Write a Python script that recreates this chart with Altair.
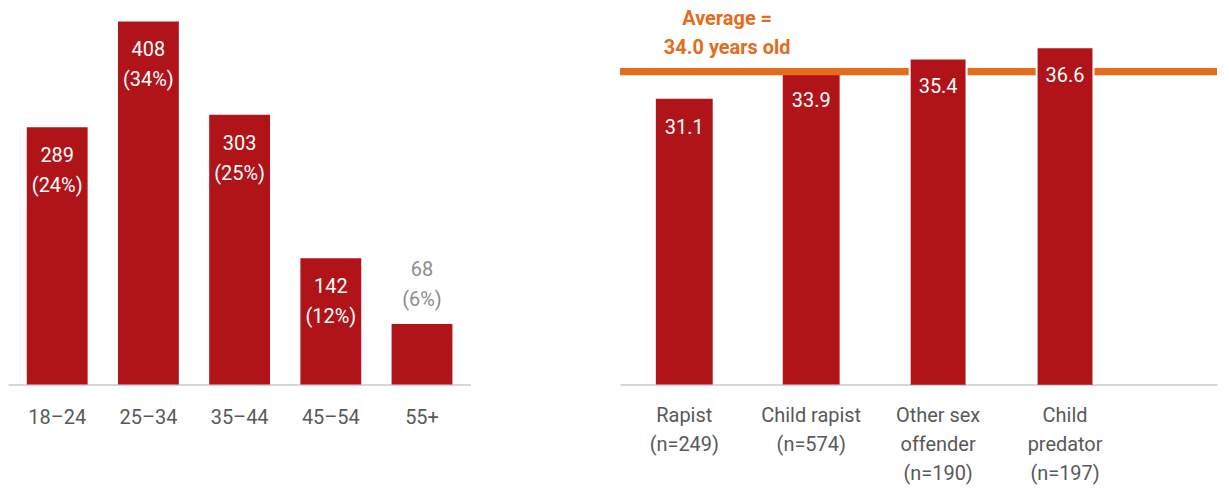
import altair as alt
import pandas as pd

# ---- data ----
age_groups = ["18–24", "25–34", "35–44", "45–54", "55+"]
age_counts = [289, 408, 303, 142, 68]
age_pcts = ["(24%)", "(34%)", "(25%)", "(12%)", "(6%)"]

offender_types = ["Rapist", "Child rapist", "Other sex offender", "Child predator"]
offender_label_lines = [["Rapist", "(n=249)"], ["Child rapist", "(n=574)"],
                        ["Other sex", "offender", "(n=190)"], ["Child", "predator", "(n=197)"]]
mean_ages = [31.1, 33.9, 35.4, 36.6]
avg_age = 34.0
avg_lines = ["Average =", "34.0 years old"]

# ---- styles ----
RED = "#B01419"
ORANGE = "#E46C1A"
GRAY = "#595959"
LIGHTGRAY = "#8C8C8C"
AXISLINE = "#D6D6D6"
FONT = "Roboto"
FS = 20
Y_MIN_R = 0.53

left_df = pd.DataFrame({"age": age_groups, "count": age_counts, "pct": age_pcts})
in_df = left_df[left_df["count"] > 100].reset_index(drop=True)
out_df = left_df[left_df["count"] <= 100].reset_index(drop=True)
right_df = pd.DataFrame({"type": offender_types, "mean": mean_ages})
above_df = right_df[right_df["mean"] > avg_age].reset_index(drop=True)
avg_df = pd.DataFrame({"type": [offender_types[0]], "mean": [avg_age],
                       "l1": [avg_lines[0]], "l2": [avg_lines[1]]})
line_rows = []
for t, lines in zip(offender_types, offender_label_lines):
    for k, s in enumerate(lines):
        line_rows.append({"type": t, "k": k, "txt": s, "mean": Y_MIN_R})
lines_df = pd.DataFrame(line_rows)

# ---- left panel ----
xL = alt.X("age:N",
           scale=alt.Scale(domain=age_groups, paddingInner=0.333, paddingOuter=0.202, align=0.51),
           axis=alt.Axis(title=None, labelAngle=0, ticks=False, domainColor=AXISLINE,
                         domainWidth=2, labelFont=FONT, labelFontSize=FS,
                         labelColor=GRAY, labelPadding=23, grid=False))
yL = alt.Y("count:Q", scale=alt.Scale(domain=[0, 422.2], nice=False), axis=None)

barsL = alt.Chart(left_df).mark_bar(color=RED).encode(x=xL, y=yL)
lab1 = alt.Chart(in_df).mark_text(font=FONT, fontSize=FS, color="white", baseline="middle", dy=29).encode(
    x=xL, y=yL, text="count:Q")
lab2 = alt.Chart(in_df).mark_text(font=FONT, fontSize=FS, color="white", baseline="middle", dy=59).encode(
    x=xL, y=yL, text="pct:N")
lab3 = alt.Chart(out_df).mark_text(font=FONT, fontSize=FS, color=LIGHTGRAY, baseline="middle", dy=-54).encode(
    x=xL, y=yL, text="count:Q")
lab4 = alt.Chart(out_df).mark_text(font=FONT, fontSize=FS, color=LIGHTGRAY, baseline="middle", dy=-24).encode(
    x=xL, y=yL, text="pct:N")

left = alt.layer(barsL, lab1, lab2, lab3, lab4).properties(width=464, height=377)

# ---- right panel ----
xR = alt.X("type:N",
           scale=alt.Scale(domain=offender_types, paddingInner=0.552, paddingOuter=0.628, align=0.225),
           axis=alt.Axis(title=None, labels=False, ticks=False, domainColor=AXISLINE,
                         domainWidth=2, grid=False))
yR = alt.Y("mean:Q", scale=alt.Scale(domain=[Y_MIN_R, 40.72], nice=False, zero=False),
           axis=None)

barsR = alt.Chart(right_df).mark_bar(color=RED, clip=True).encode(x=xR, y=yR)
rule = alt.Chart(avg_df).mark_rule(color=ORANGE, strokeWidth=7.5).encode(y=yR)
barsAbove = alt.Chart(above_df).mark_bar(color=RED, stroke="white", strokeWidth=2, clip=True).encode(x=xR, y=yR)
labR = alt.Chart(right_df).mark_text(font=FONT, fontSize=FS, color="white", baseline="middle", dy=29).encode(
    x=xR, y=yR, text=alt.Text("mean:Q", format=".1f"))
ann1 = alt.Chart(avg_df).mark_text(font=FONT, fontSize=FS, fontWeight="bold", color=ORANGE,
                                   baseline="middle", dx=43, dy=-53).encode(
    x=xR, y=yR, text="l1:N")
ann2 = alt.Chart(avg_df).mark_text(font=FONT, fontSize=FS, fontWeight="bold", color=ORANGE,
                                   baseline="middle", dx=43, dy=-24).encode(
    x=xR, y=yR, text="l2:N")
xlabs = [
    alt.Chart(lines_df[lines_df["k"] == k].reset_index(drop=True)).mark_text(
        font=FONT, fontSize=FS, color=GRAY, baseline="middle", dy=32 + 29 * k).encode(
        x=xR, y=yR, text="txt:N")
    for k in range(3)
]

right = alt.layer(barsR, rule, barsAbove, labR, ann1, ann2, *xlabs).properties(width=599, height=377)

chart = alt.hconcat(left, right, spacing=146).properties(
    padding=0, background="white"
).configure_view(strokeWidth=0)

chart.save("out.html", embed_options={"renderer": "svg", "actions": False})
